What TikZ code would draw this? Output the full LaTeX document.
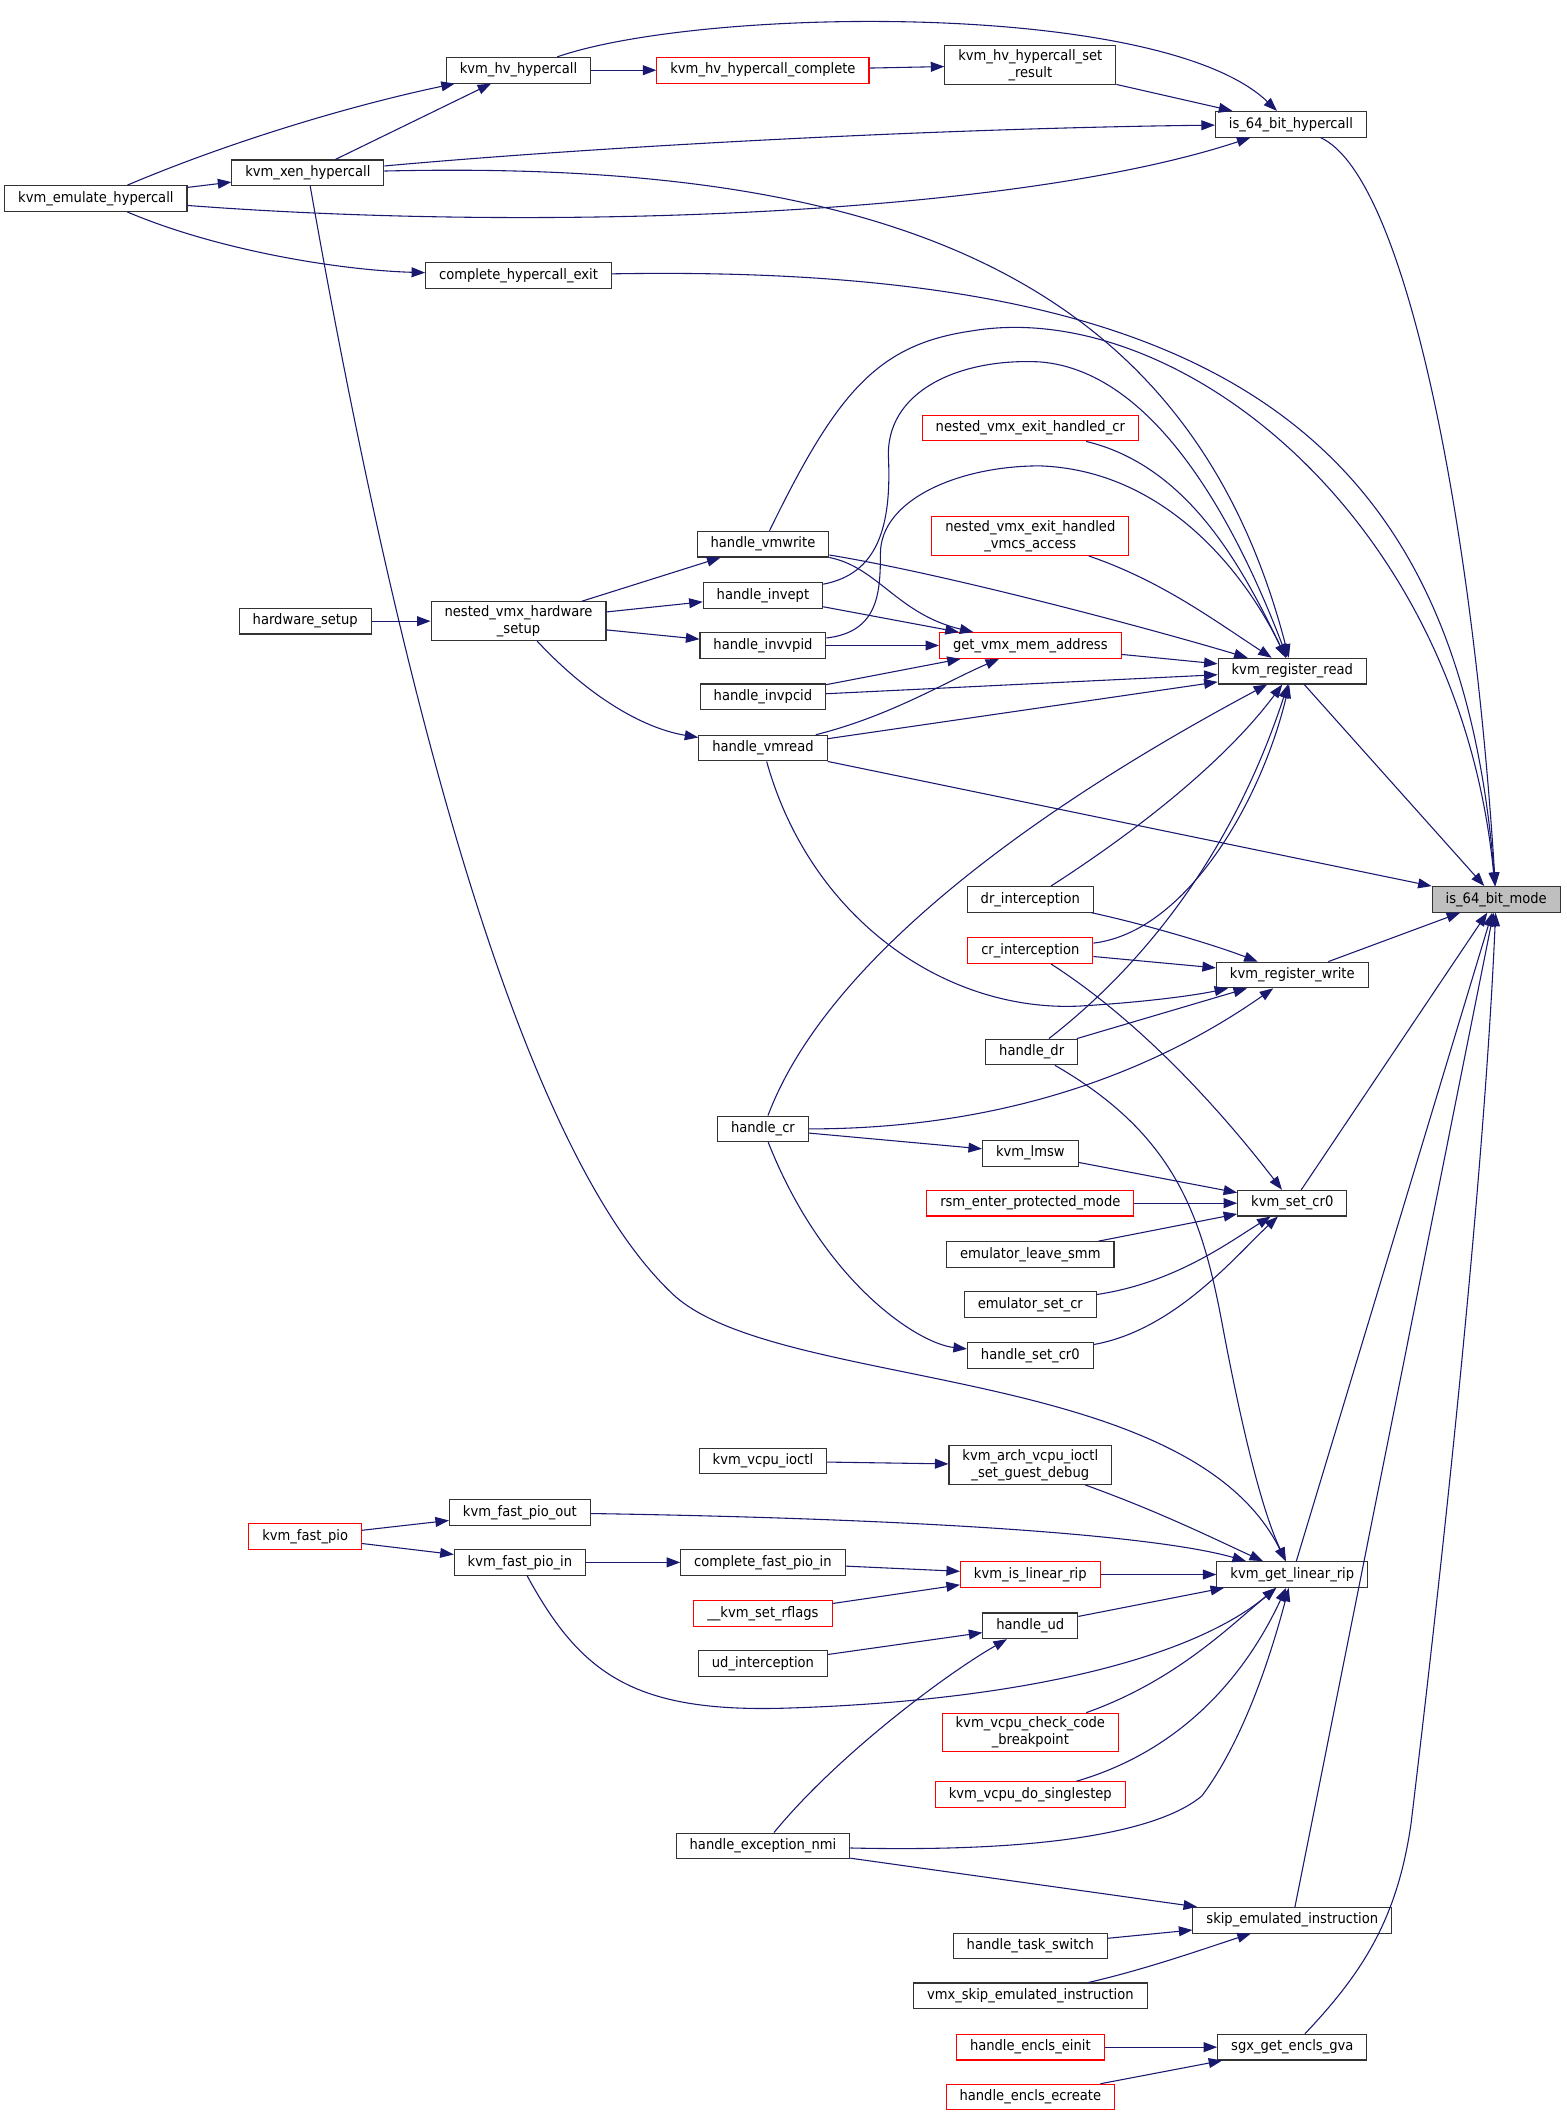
\documentclass[tikz,border=0pt]{standalone}
\usepackage{fontspec}
\newfontfamily\graphfont{DejaVu Sans}[FakeStretch=0.91]
\usetikzlibrary{arrows.meta}
\definecolor{edgeblue}{RGB}{25,25,112}
\definecolor{selgray}{RGB}{191,191,191}

\begin{document}
\begin{tikzpicture}[x=0.75pt, y=-0.75pt,
    fn/.style={draw=black!80, line width=0.6pt, inner xsep=7.5pt, inner ysep=2pt,
        minimum height=14.25pt, align=center, font=\graphfont\fontsize{8}{9.5}\selectfont},
    fnred/.style={fn, draw=red},
    fnsel/.style={fn, fill=selgray},
    call/.style={edgeblue, line width=0.6pt, -{Triangle[length=7.5pt, width=5.5pt]}}]
    \useasboundingbox (0,0) rectangle (1160.4,1567);

    \node[fn] (hvcall) at (384,52) {kvm\_hv\_hypercall};
    \node[fnred] (hvcomplete) at (565,52) {kvm\_hv\_hypercall\_complete};
    \node[fn] (hvsetresult) at (763,48) {kvm\_hv\_hypercall\_set\\\_result};
    \node[fn] (is64hc) at (956,92) {is\_64\_bit\_hypercall};
    \node[fn] (xencall) at (228,128) {kvm\_xen\_hypercall};
    \node[fn] (emulcall) at (71,147) {kvm\_emulate\_hypercall};
    \node[fn] (complexit) at (384,204) {complete\_hypercall\_exit};
    \node[fnred] (nvexcr) at (763,317) {nested\_vmx\_exit\_handled\_cr};
    \node[fnred] (nvexvmcs) at (763,397) {nested\_vmx\_exit\_handled\\\_vmcs\_access};
    \node[fn] (vmwrite) at (565,403) {handle\_vmwrite};
    \node[fn] (invept) at (565,441) {handle\_invept};
    \node[fn] (hwsetup) at (226,460) {hardware\_setup};
    \node[fn] (nvhwsetup) at (384,460) {nested\_vmx\_hardware\\\_setup};
    \node[fn] (invvpid) at (565,478) {handle\_invvpid};
    \node[fnred] (getvmx) at (763,478) {get\_vmx\_mem\_address};
    \node[fn] (regread) at (957,497) {kvm\_register\_read};
    \node[fn] (invpcid) at (565,516) {handle\_invpcid};
    \node[fn] (vmread) at (565,554) {handle\_vmread};
    \node[fnsel] (is64mode) at (1108,666) {is\_64\_bit\_mode};
    \node[fn] (drint) at (763,666) {dr\_interception};
    \node[fnred] (crint) at (763,704) {cr\_interception};
    \node[fn] (regwrite) at (957,722) {kvm\_register\_write};
    \node[fn] (handledr) at (764,779) {handle\_dr};
    \node[fn] (handlecr) at (565,836) {handle\_cr};
    \node[fn] (lmsw) at (763,854) {kvm\_lmsw};
    \node[fnred] (rsmprot) at (763,891) {rsm\_enter\_protected\_mode};
    \node[fn] (setcr0) at (957,891) {kvm\_set\_cr0};
    \node[fn] (leavesmm) at (763,929) {emulator\_leave\_smm};
    \node[fn] (emusetcr) at (763,966) {emulator\_set\_cr};
    \node[fn] (hsetcr0) at (763,1004) {handle\_set\_cr0};
    \node[fn] (vcpuioctl) at (565,1082) {kvm\_vcpu\_ioctl};
    \node[fn] (archioctl) at (763,1085) {kvm\_arch\_vcpu\_ioctl\\\_set\_guest\_debug};
    \node[fn] (piout) at (385,1120) {kvm\_fast\_pio\_out};
    \node[fnred] (fastpio) at (226,1138) {kvm\_fast\_pio};
    \node[fn] (pioin) at (385,1157) {kvm\_fast\_pio\_in};
    \node[fn] (compioin) at (565,1157) {complete\_fast\_pio\_in};
    \node[fnred] (islinrip) at (763,1166) {kvm\_is\_linear\_rip};
    \node[fn] (getlinrip) at (957,1166) {kvm\_get\_linear\_rip};
    \node[fnred] (setrflags) at (565,1195) {\_\_kvm\_set\_rflags};
    \node[fn] (handleud) at (763,1204) {handle\_ud};
    \node[fn] (udint) at (565,1232) {ud\_interception};
    \node[fnred] (checkbp) at (763,1283) {kvm\_vcpu\_check\_code\\\_breakpoint};
    \node[fnred] (singlestep) at (763,1329) {kvm\_vcpu\_do\_singlestep};
    \node[fn] (excnmi) at (565,1367) {handle\_exception\_nmi};
    \node[fn] (skipemu) at (957,1422) {skip\_emulated\_instruction};
    \node[fn] (taskswitch) at (763,1441) {handle\_task\_switch};
    \node[fn] (vmxskip) at (763,1478) {vmx\_skip\_emulated\_instruction};
    \node[fnred] (enclseinit) at (763,1516) {handle\_encls\_einit};
    \node[fn] (sgxgva) at (957,1516) {sgx\_get\_encls\_gva};
    \node[fnred] (enclsecreate) at (763,1553) {handle\_encls\_ecreate};

    % straight calls
    \foreach \a/\b in {hvcall/hvcomplete, hvcomplete/hvsetresult, hvsetresult/is64hc,
        xencall/hvcall, emulcall/xencall, invept/getvmx, invvpid/getvmx, invpcid/getvmx,
        getvmx/regread, invpcid/regread, vmread/regread, vmread/is64mode,
        nvhwsetup/vmwrite, nvhwsetup/invept, nvhwsetup/invvpid, hwsetup/nvhwsetup,
        regread/is64mode, crint/regwrite, regwrite/is64mode, handledr/regwrite,
        handlecr/lmsw, lmsw/setcr0, rsmprot/setcr0, leavesmm/setcr0, setcr0/is64mode,
        vcpuioctl/archioctl, fastpio/piout, fastpio/pioin, pioin/compioin,
        compioin/islinrip, setrflags/islinrip, islinrip/getlinrip, handleud/getlinrip,
        udint/handleud, excnmi/skipemu, getlinrip/is64mode, taskswitch/skipemu,
        enclseinit/sgxgva, enclsecreate/sgxgva, skipemu/is64mode}{
        \draw[call] (\a) -- (\b);
    }

    % curved calls
    \draw[call] (hvcall) .. controls (520,5) and (860,0) .. (is64hc);
    \draw[call] (emulcall) .. controls (170,105) and (260,78) .. (hvcall);
    \draw[call] (xencall) .. controls (450,108) and (700,95) .. (is64hc);
    \draw[call] (emulcall) .. controls (400,172) and (750,160) .. (is64hc);
    \draw[call] (emulcall) .. controls (160,185) and (250,200) .. (complexit);
    \draw[call] (is64hc) .. controls (1040,130) and (1090,380) .. (is64mode);
    \draw[call] (complexit) .. controls (900,195) and (1080,320) .. (is64mode);
    \draw[call] (xencall) .. controls (650,118) and (880,200) .. (regread);
    \draw[call] (xencall) .. controls (290,480) and (380,850) .. (500,960)
        .. controls (580,1030) and (880,1010) .. (getlinrip);
    \draw[call] (vmwrite) .. controls (620,290) and (650,255) .. (720,245)
        .. controls (870,220) and (1080,380) .. (is64mode);
    \draw[call] (invept) .. controls (650,425) and (660,390) .. (658,340)
        .. controls (655,290) and (710,265) .. (770,268)
        .. controls (860,275) and (920,400) .. (regread);
    \draw[call] (invvpid) .. controls (650,468) and (652,440) .. (652,410)
        .. controls (652,370) and (710,345) .. (770,345)
        .. controls (860,348) and (920,420) .. (regread);
    \draw[call] (nvexcr) .. controls (880,345) and (920,420) .. (regread);
    \draw[call] (nvexvmcs) .. controls (860,430) and (900,460) .. (regread);
    \draw[call] (vmwrite) .. controls (700,425) and (850,465) .. (regread);
    \draw[call] (vmwrite) .. controls (650,420) and (665,455) .. (getvmx);
    \draw[call] (vmread) .. controls (660,530) and (700,505) .. (getvmx);
    \draw[call] (vmread) .. controls (600,680) and (700,750) .. (800,745)
        .. controls (850,742) and (885,737) .. (regwrite);
    \draw[call] (nvhwsetup) .. controls (440,520) and (480,540) .. (vmread);
    \draw[call] (drint) .. controls (850,610) and (910,560) .. (regread);
    \draw[call] (drint) .. controls (850,685) and (900,700) .. (regwrite);
    \draw[call] (crint) .. controls (880,690) and (935,590) .. (regread);
    \draw[call] (crint) .. controls (850,760) and (910,830) .. (setcr0);
    \draw[call] (handledr) .. controls (840,720) and (910,640) .. (regread);
    \draw[call] (handledr) .. controls (870,840) and (890,900) .. (905,980)
        .. controls (920,1060) and (935,1120) .. (getlinrip);
    \draw[call] (handlecr) .. controls (620,690) and (820,570) .. (regread);
    \draw[call] (handlecr) .. controls (750,836) and (860,790) .. (regwrite);
    \draw[call] (handlecr) .. controls (610,950) and (680,995) .. (hsetcr0);
    \draw[call] (emusetcr) .. controls (870,950) and (910,920) .. (setcr0);
    \draw[call] (hsetcr0) .. controls (870,985) and (915,930) .. (setcr0);
    \draw[call] (archioctl) .. controls (860,1120) and (900,1140) .. (getlinrip);
    \draw[call] (piout) .. controls (700,1125) and (860,1138) .. (getlinrip);
    \draw[call] (pioin) .. controls (430,1240) and (470,1268) .. (580,1265)
        .. controls (750,1260) and (880,1230) .. (getlinrip);
    \draw[call] (excnmi) .. controls (620,1300) and (700,1240) .. (handleud);
    \draw[call] (checkbp) .. controls (870,1245) and (910,1205) .. (getlinrip);
    \draw[call] (singlestep) .. controls (880,1295) and (925,1235) .. (getlinrip);
    \draw[call] (excnmi) .. controls (780,1372) and (860,1355) .. (890,1330)
        .. controls (920,1290) and (940,1230) .. (getlinrip);
    \draw[call] (vmxskip) .. controls (850,1458) and (895,1442) .. (skipemu);
    \draw[call] (sgxgva) .. controls (1010,1460) and (1035,1420) .. (1045,1350)
        .. controls (1075,1100) and (1100,850) .. (is64mode);
\end{tikzpicture}
\end{document}
